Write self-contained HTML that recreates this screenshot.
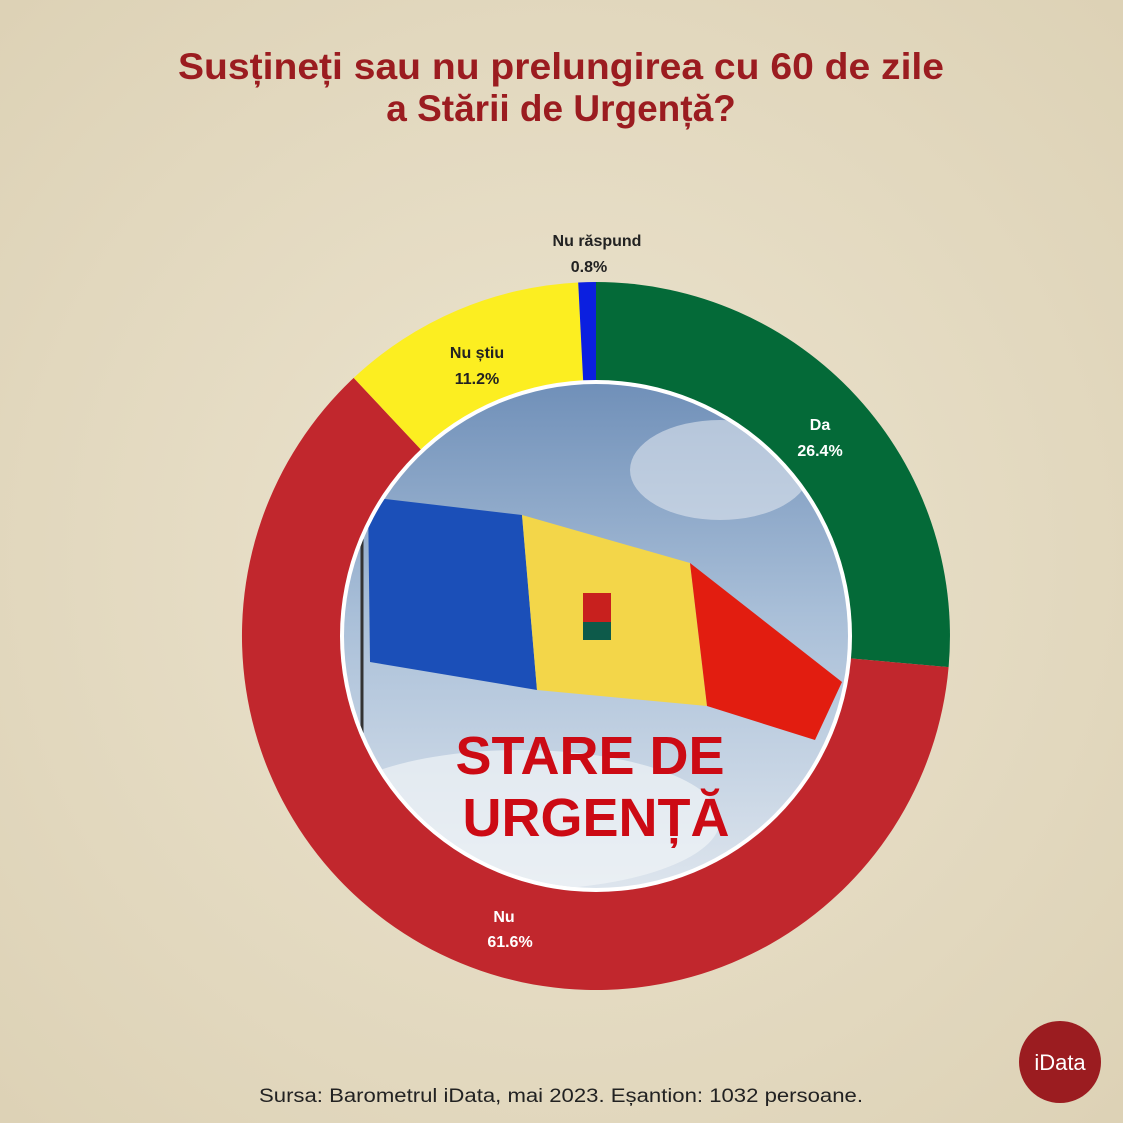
<!DOCTYPE html>
<html><head><meta charset="utf-8"><style>
html,body{margin:0;width:1123px;height:1123px;background:#e8dfc6;overflow:hidden;font-family:"Liberation Sans",sans-serif}
svg{display:block}
</style></head><body>
<svg width="1123" height="1123" viewBox="0 0 1123 1123" xmlns="http://www.w3.org/2000/svg">
<defs>
<radialGradient id="bg" cx="50%" cy="50%" r="70%"><stop offset="0" stop-color="#ece4cf"/><stop offset="1" stop-color="#ddd2b6"/></radialGradient>
<linearGradient id="sky" x1="0" y1="0" x2="0" y2="1"><stop offset="0" stop-color="#6f8fb8"/><stop offset="0.45" stop-color="#a9bfd8"/><stop offset="1" stop-color="#dfe6ee"/></linearGradient>
<clipPath id="c"><circle cx="596" cy="636" r="252"/></clipPath>
</defs>
<rect width="1123" height="1123" fill="url(#bg)"/>
<text x="561" y="79" text-anchor="middle" font-size="37" font-weight="bold" fill="#9b1c20" textLength="766" lengthAdjust="spacingAndGlyphs">Susțineți sau nu prelungirea cu 60 de zile</text>
<text x="561" y="121" text-anchor="middle" font-size="37" font-weight="bold" fill="#9b1c20">a Stării de Urgență?</text>
<path d="M596 636 L596 282 A354 354 0 0 1 948.6 667.1Z" fill="#046a38"/>
<path d="M596 636 L948.6 667.1 A354 354 0 1 1 353.7 377.9Z" fill="#c1272d"/>
<path d="M596 636 L353.7 377.9 A354 354 0 0 1 578.2 282.5Z" fill="#fcee21"/>
<path d="M596 636 L578.2 282.5 A354 354 0 0 1 596 282Z" fill="#0b1fe0"/>
<circle cx="596" cy="636" r="256" fill="#fff"/>
<g clip-path="url(#c)">
<rect x="340" y="380" width="520" height="520" fill="url(#sky)"/>
<ellipse cx="520" cy="820" rx="200" ry="70" fill="#f0f3f6" opacity="0.7"/>
<ellipse cx="720" cy="470" rx="90" ry="50" fill="#dfe6ef" opacity="0.6"/>
<polygon points="368,497 522,515 537,690 370,662" fill="#1b4fb8"/>
<polygon points="522,515 690,563 707,706 537,690" fill="#f3d649"/>
<polygon points="690,563 842,682 815,740 707,706" fill="#e21d10"/>
<rect x="583" y="593" width="28" height="42" fill="#c8201e"/>
<rect x="583" y="622" width="28" height="18" fill="#0d5a4a"/>
<line x1="362" y1="530" x2="362" y2="900" stroke="#333" stroke-width="3"/>
</g>
<text x="590" y="774" text-anchor="middle" font-size="54" font-weight="bold" fill="#cc0a14">STARE DE</text>
<text x="596" y="836" text-anchor="middle" font-size="54" font-weight="bold" fill="#cc0a14">URGENȚĂ</text>
<g font-size="16" font-weight="bold" fill="#fff" text-anchor="middle">
<text x="820" y="430">Da</text><text x="820" y="456">26.4%</text>
<text x="504" y="922">Nu</text><text x="510" y="947">61.6%</text>
</g>
<g font-size="16" font-weight="bold" fill="#222" text-anchor="middle">
<text x="477" y="358">Nu știu</text><text x="477" y="384">11.2%</text>
<text x="597" y="246">Nu răspund</text><text x="589" y="272">0.8%</text>
</g>
<text x="561" y="1102" text-anchor="middle" font-size="19" fill="#222" textLength="604" lengthAdjust="spacingAndGlyphs">Sursa: Barometrul iData, mai 2023. Eșantion: 1032 persoane.</text>
<circle cx="1060" cy="1062" r="41" fill="#9b1c20"/>
<text x="1060" y="1070" text-anchor="middle" font-size="22" fill="#fff">iData</text>
</svg>
</body></html>
